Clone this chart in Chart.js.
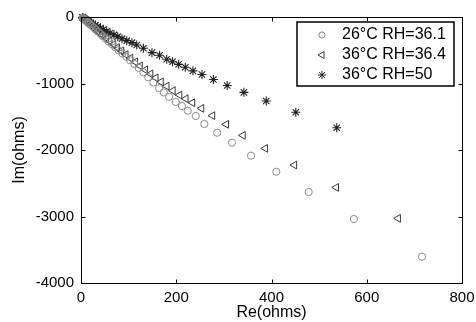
<!DOCTYPE html>
<html>
<head>
<meta charset="utf-8">
<script src="https://cdn.jsdelivr.net/npm/chart.js"></script>
<style>
  html, body { margin: 0; padding: 0; background: #fff; }
  #wrap { width: 476px; height: 322px; }
</style>
</head>
<body>
<div id="wrap"><canvas id="nyquist" width="476" height="322"></canvas></div>
<script>
// 26°C RH=36.1 (circles)
const re_a = [4, 5, 7, 8, 11, 13, 16, 19, 23, 27, 31, 36, 41, 46, 52, 58, 65, 72, 79, 87, 95, 103, 112, 121, 131, 141, 152, 164, 174, 185, 199, 212, 224, 241, 259, 286, 317, 357, 410, 478, 573, 716]
const im_a = [-14, -22, -32, -44, -58, -74, -92, -112, -136, -162, -190, -220, -254, -290, -328, -368, -410, -455, -500, -548, -598, -650, -707, -765, -832, -905, -985, -1070, -1135, -1200, -1278, -1339, -1409, -1489, -1609, -1740, -1890, -2086, -2327, -2632, -3038, -3605]

// 36°C RH=36.4 (triangles)
const re_b = [4, 5, 6, 8, 10, 13, 16, 20, 24, 29, 34, 40, 46, 53, 60, 68, 76, 85, 94, 104, 114, 124, 135, 146, 157, 168, 180, 193, 207, 220, 234, 253, 276, 305, 340, 387, 448, 536, 666]
const im_b = [-12, -20, -30, -42, -58, -76, -96, -120, -146, -176, -208, -244, -282, -322, -366, -412, -460, -510, -565, -620, -675, -735, -795, -855, -915, -975, -1040, -1108, -1173, -1229, -1289, -1374, -1484, -1614, -1780, -1975, -2226, -2562, -3028]

// 36°C RH=50 (asterisks)
const re_c = [3, 4, 5, 7, 9, 11, 14, 17, 21, 25, 30, 35, 41, 47, 54, 61, 69, 77, 86, 96, 107, 117, 131, 149, 165, 180, 192, 205, 219, 235, 254, 278, 307, 342, 389, 451, 537]
const im_c = [-6, -12, -20, -28, -38, -48, -60, -74, -90, -106, -124, -144, -166, -190, -214, -240, -268, -296, -326, -356, -386, -421, -470, -536, -575, -635, -672, -712, -755, -810, -865, -940, -1030, -1133, -1263, -1433, -1665]

const labels = ['26°C RH=36.1', '36°C RH=36.4', '36°C RH=50']
const xTicks = [0, 200, 400, 600, 800]
const yTicks = [-4000, -3000, -2000, -1000, 0]

const FONT = "'Liberation Sans', Arial, sans-serif"

function pairs(xs, ys)
{
    return xs.map((x, i) => ({x: x, y: ys[i]}))
}

// box round the plot, with small ticks pointing inward on all four sides
const frame = {
    id: 'frame',
    afterDatasetsDraw(chart) {
        const ctx = chart.ctx
        const a = chart.chartArea
        const sx = chart.scales.x, sy = chart.scales.y
        const L = Math.round(a.left) + 0.5, R = Math.round(a.right) + 0.5
        const T = Math.round(a.top) + 0.5, B = Math.round(a.bottom) + 0.5
        ctx.save()
        ctx.strokeStyle = '#000'
        ctx.lineWidth = 1
        ctx.strokeRect(L, T, R - L, B - T)
        ctx.beginPath()
        xTicks.forEach(v => {
            const px = Math.round(sx.getPixelForValue(v)) + 0.5
            ctx.moveTo(px, B); ctx.lineTo(px, B - 4)
            ctx.moveTo(px, T); ctx.lineTo(px, T + 4)
        })
        yTicks.forEach(v => {
            const py = Math.round(sy.getPixelForValue(v)) + 0.5
            ctx.moveTo(L, py); ctx.lineTo(L + 4, py)
            ctx.moveTo(R, py); ctx.lineTo(R - 4, py)
        })
        ctx.stroke()
        ctx.restore()
    }
}

// boxed legend in the top right corner
const boxLegend = {
    id: 'boxLegend',
    afterDraw(chart) {
        const ctx = chart.ctx
        const a = chart.chartArea
        const x0 = a.right - 165, y0 = a.top + 5, w = 157, h = 64
        ctx.save()
        ctx.fillStyle = '#fff'
        ctx.fillRect(x0, y0, w, h)
        ctx.strokeStyle = '#000'
        ctx.lineWidth = 1.5
        ctx.strokeRect(x0, y0, w, h)
        chart.data.datasets.forEach((ds, i) => {
            const cy = y0 + 13 + i * 20
            const opts = {
                pointStyle: ds.pointStyle,
                radius: ds.pointRadius - 0.5,
                rotation: ds.rotation || 0,
                borderWidth: 1
            }
            ctx.strokeStyle = ds.borderColor
            ctx.fillStyle = 'rgba(0,0,0,0)'
            ctx.lineWidth = 1
            Chart.helpers.drawPoint(ctx, opts, x0 + 25, cy)
            ctx.fillStyle = '#000'
            ctx.font = '16px ' + FONT
            ctx.textBaseline = 'middle'
            ctx.textAlign = 'left'
            ctx.fillText(ds.label, x0 + 45, cy)
        })
        ctx.restore()
    }
}

new Chart(document.getElementById('nyquist'), {
    type: 'scatter',
    data: {
        datasets: [
            {
                label: labels[0],
                data: pairs(re_a, im_a),
                pointStyle: 'circle',
                pointRadius: 3.6,
                borderColor: '#8a8a8a',
                backgroundColor: 'rgba(0,0,0,0)',
                borderWidth: 1,
                clip: false
            },
            {
                label: labels[1],
                data: pairs(re_b, im_b),
                pointStyle: 'triangle',
                rotation: -90,
                pointRadius: 4.5,
                borderColor: '#3a3a3a',
                backgroundColor: 'rgba(0,0,0,0)',
                borderWidth: 1,
                clip: false
            },
            {
                label: labels[2],
                data: pairs(re_c, im_c),
                pointStyle: 'star',
                pointRadius: 4.5,
                borderColor: '#222',
                backgroundColor: 'rgba(0,0,0,0)',
                borderWidth: 1.1,
                clip: false
            }
        ]
    },
    options: {
        responsive: false,
        animation: false,
        layout: { padding: { top: 17, right: 14, left: 0, bottom: 0 } },
        plugins: {
            legend: { display: false },
            tooltip: { enabled: false }
        },
        scales: {
            x: {
                type: 'linear',
                min: 0,
                max: 800,
                afterBuildTicks: s => { s.ticks = xTicks.map(v => ({value: v})) },
                afterFit: s => { s.height = 39; s.paddingLeft = 0; s.paddingRight = 0 },
                grid: { display: false, drawTicks: false },
                border: { display: false },
                ticks: {
                    color: '#000', padding: 6, maxRotation: 0,
                    font: { family: FONT, size: 15 },
                    callback: v => String(v)
                },
                title: {
                    display: true,
                    text: 'Re(ohms)',
                    color: '#000',
                    padding: { top: 0, bottom: 0 },
                    font: { family: FONT, size: 16 }
                }
            },
            y: {
                type: 'linear',
                min: -4000,
                max: 0,
                afterBuildTicks: s => { s.ticks = yTicks.map(v => ({value: v})) },
                afterFit: s => { s.width = 81; s.paddingTop = 0; s.paddingBottom = 0 },
                grid: { display: false, drawTicks: false },
                border: { display: false },
                ticks: {
                    color: '#000', padding: 7,
                    font: { family: FONT, size: 15 },
                    callback: v => String(v)
                },
                title: {
                    display: true,
                    text: 'Im(ohms)',
                    color: '#000',
                    padding: { top: 10, bottom: 0 },
                    font: { family: FONT, size: 16 }
                }
            }
        }
    },
    plugins: [frame, boxLegend]
})
</script>
</body>
</html>
